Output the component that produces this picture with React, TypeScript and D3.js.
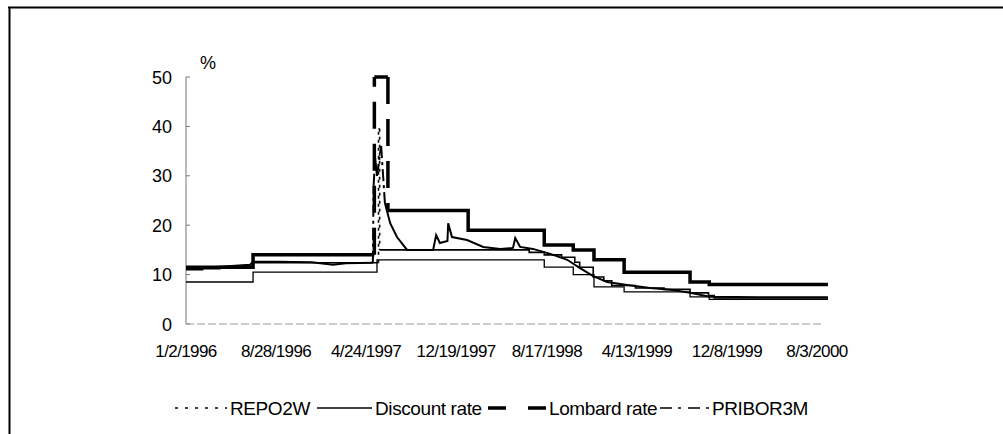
import React from "react";
import * as d3 from "d3";

const W = 1003;
const H = 434;

const xTickLabels = ["1/2/1996", "8/28/1996", "4/24/1997", "12/19/1997", "8/17/1998", "4/13/1999", "12/8/1999", "8/3/2000"];
const yTicks = [0, 10, 20, 30, 40, 50];
const seriesNames = ["REPO2W", "Discount rate", "Lombard rate", "PRIBOR3M"];

// step series: value holds from date until next date
const lombardRate: [string, number][] = [
  ["1996-01-02", 11.5],
  ["1996-06-28", 14],
  ["1997-05-16", 50],
  ["1997-06-21", 23],
  ["1998-01-20", 19],
  ["1998-08-10", 16],
  ["1998-10-26", 15],
  ["1998-12-20", 13],
  ["1999-03-10", 10.5],
  ["1999-09-01", 8.5],
  ["1999-10-22", 8],
  ["2000-09-01", 8],
];

const discountRate: [string, number][] = [
  ["1996-01-02", 8.5],
  ["1996-06-28", 10.5],
  ["1997-05-23", 13],
  ["1998-08-10", 11.5],
  ["1998-10-26", 10],
  ["1998-12-20", 7.5],
  ["1999-03-10", 6.5],
  ["1999-09-01", 5.5],
  ["1999-10-22", 5.0],
  ["2000-09-01", 5.0],
];

const repo2w: [string, number][] = [
  ["1996-01-02", 11.0],
  ["1996-02-15", 11.2],
  ["1996-04-01", 11.4],
  ["1996-05-15", 11.7],
  ["1996-06-28", 12.4],
  ["1997-05-27", 39.5],
  ["1997-05-30", 15],
  ["1998-07-01", 14.5],
  ["1998-08-10", 14],
  ["1998-09-25", 13.5],
  ["1998-10-30", 12.5],
  ["1998-11-12", 11.5],
  ["1998-12-18", 9.5],
  ["1999-01-15", 8.75],
  ["1999-02-05", 7.8],
  ["1999-04-09", 7.3],
  ["1999-06-24", 7.0],
  ["1999-09-01", 6.3],
  ["1999-10-20", 5.75],
  ["1999-11-04", 5.25],
  ["2000-09-01", 5.25],
];

// PRIBOR 3M, read points joined by straight lines
const pribor3m: [string, number][] = [
  ["1996-01-02", 11.2],
  ["1996-04-01", 11.6],
  ["1996-06-20", 12.0],
  ["1996-06-28", 12.6],
  ["1996-09-01", 12.6],
  ["1996-12-01", 12.5],
  ["1997-01-26", 12.0],
  ["1997-03-01", 12.3],
  ["1997-05-12", 12.4],
  ["1997-05-14", 28],
  ["1997-05-18", 33.6],
  ["1997-05-23", 30],
  ["1997-06-03", 36],
  ["1997-06-13", 24.5],
  ["1997-06-27", 20.4],
  ["1997-07-15", 17.6],
  ["1997-08-11", 15.0],
  ["1997-10-19", 15.0],
  ["1997-10-27", 18.0],
  ["1997-11-06", 16.4],
  ["1997-11-26", 16.8],
  ["1997-11-28", 20.4],
  ["1997-12-08", 17.6],
  ["1998-01-17", 17.0],
  ["1998-03-01", 15.6],
  ["1998-04-15", 15.2],
  ["1998-05-19", 15.4],
  ["1998-05-25", 17.4],
  ["1998-06-07", 15.6],
  ["1998-07-11", 15.2],
  ["1998-08-26", 14.2],
  ["1998-10-10", 13.0],
  ["1998-11-13", 11.3],
  ["1998-12-18", 9.7],
  ["1999-01-24", 8.5],
  ["1999-03-18", 7.9],
  ["1999-05-18", 7.3],
  ["1999-07-18", 6.9],
  ["1999-09-01", 6.3],
  ["1999-10-24", 5.5],
  ["2000-03-05", 5.4],
  ["2000-09-01", 5.4],
];

const parseISO = d3.timeParse("%Y-%m-%d");
const parseMDY = d3.timeParse("%m/%d/%Y");

type Pt = [number, number];

function Series({ pts, step, stroke, width, dash }: { pts: Pt[]; step: boolean; stroke: string; width: number; dash?: string }) {
  const P: Pt[] = [];
  pts.forEach((p, i) => {
    if (step && i > 0) P.push([p[0], P[P.length - 1][1]]);
    P.push(p);
  });
  const els: React.ReactNode[] = [];
  const line = d3.line();
  let run: Pt[] = [P[0]];
  let k = 0;
  const flush = () => {
    if (run.length > 1) {
      els.push(
        <path key={"r" + k++} d={line(run) || ""} fill="none" stroke={stroke} strokeWidth={width} strokeLinejoin="miter" strokeLinecap="butt" />
      );
    }
  };
  for (let i = 1; i < P.length; i++) {
    const a = P[i - 1];
    const b = P[i];
    const dx = Math.abs(b[0] - a[0]);
    const dy = Math.abs(b[1] - a[1]);
    const dashed = !!dash && dy > 25 && dy > 3 * dx;
    if (dashed) {
      flush();
      els.push(
        <line key={"d" + k++} x1={a[0]} y1={a[1]} x2={b[0]} y2={b[1]} stroke={stroke} strokeWidth={width} strokeDasharray={dash} />
      );
      run = [b];
    } else {
      run.push(b);
    }
  }
  flush();
  return <g>{els}</g>;
}

export default function App() {
  const x = d3
    .scaleTime()
    .domain([parseMDY("1/2/1996") as Date, parseMDY("8/3/2000") as Date])
    .range([186, 817]);
  const y = d3.scaleLinear().domain([0, 50]).range([324, 77]);

  const toPts = (arr: [string, number][]): Pt[] => arr.map(([d, v]) => [x(parseISO(d) as Date), y(v)]);

  const font = "'Liberation Sans', Arial, Helvetica, sans-serif";

  const legendY = 408;
  const legend = [
    { name: seriesNames[0], x0: 175, x1: 227, tx: 230, stroke: 1.5, dash: "3,7" },
    { name: seriesNames[1], x0: 317, x1: 372, tx: 375, stroke: 1.3, dash: undefined },
    { name: seriesNames[2], x0: 488, x1: 547, tx: 549, stroke: 3.5, dash: "18,22" },
    { name: seriesNames[3], x0: 660, x1: 710, tx: 712, stroke: 1.5, dash: "12,6,3,7" },
  ];

  return (
    <svg width={W} height={H} style={{ position: "absolute", left: 0, top: 0 }} fontFamily={font}>
      <rect x={0} y={0} width={W} height={H} fill="#fff" />
      {/* outer frame (top and left visible) */}
      <line x1={8} y1={7.5} x2={W} y2={7.5} stroke="#000" strokeWidth={2} />
      <line x1={9.5} y1={7} x2={9.5} y2={H} stroke="#000" strokeWidth={2} />

      {/* y axis */}
      <line x1={186} y1={y(0)} x2={186} y2={y(50)} stroke="#777" strokeWidth={1} />
      {yTicks.map((t) => (
        <g key={t}>
          <line x1={186} x2={190} y1={y(t)} y2={y(t)} stroke="#777" strokeWidth={1} />
          <text x={172} y={y(t) + 6.5} textAnchor="end" fontSize={18} fill="#000">
            {t}
          </text>
        </g>
      ))}
      <text x={208} y={69} textAnchor="middle" fontSize={18} fill="#000">
        %
      </text>

      {/* x axis */}
      <line x1={186} y1={y(0)} x2={823} y2={y(0)} stroke="#999" strokeWidth={1} strokeDasharray="8,3" />
      {xTickLabels.map((l) => (
        <text key={l} x={x(parseMDY(l) as Date)} y={357} textAnchor="middle" fontSize={17} letterSpacing={-0.6} fill="#000">
          {l}
        </text>
      ))}

      {/* series */}
      <Series pts={toPts(discountRate)} step={true} stroke="#000" width={1.3} />
      <Series pts={toPts(repo2w)} step={true} stroke="#000" width={1.6} dash="3,5" />
      <Series pts={toPts(pribor3m)} step={false} stroke="#000" width={2} dash="12,4,3,4" />
      <Series pts={toPts(lombardRate)} step={true} stroke="#000" width={3.5} dash="27,15" />

      {/* legend */}
      {legend.map((e) => (
        <g key={e.name}>
          <line x1={e.x0} x2={e.x1} y1={legendY} y2={legendY} stroke="#000" strokeWidth={e.stroke} strokeDasharray={e.dash} />
          <text x={e.tx} y={legendY + 7} fontSize={19} letterSpacing={-0.4} fill="#000">
            {e.name}
          </text>
        </g>
      ))}
    </svg>
  );
}
